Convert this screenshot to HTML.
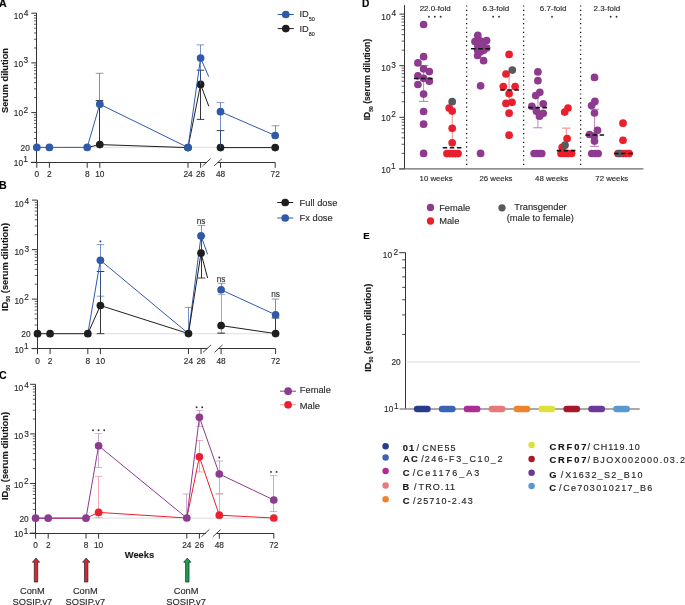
<!DOCTYPE html>
<html><head><meta charset="utf-8"><style>
html,body{margin:0;padding:0;background:#fff;overflow:hidden;}
svg text{stroke-width:0.15px;}
svg{display:block;font-family:"Liberation Sans",sans-serif;will-change:transform;filter:blur(0.3px);}
</style></head><body>
<svg width="685" height="605" viewBox="0 0 685 605">
<rect width="685" height="605" fill="#fff"/>
<text x="-0.90" y="6.80" font-size="10.6" text-anchor="start" font-weight="bold" fill="#000" stroke="#000" >A</text>
<line x1="36.50" y1="13.20" x2="36.50" y2="162.80" stroke="#333" stroke-width="1.0" />
<line x1="31.30" y1="162.30" x2="36.80" y2="162.30" stroke="#333" stroke-width="1.0" />
<line x1="31.30" y1="112.60" x2="36.80" y2="112.60" stroke="#333" stroke-width="1.0" />
<line x1="31.30" y1="62.90" x2="36.80" y2="62.90" stroke="#333" stroke-width="1.0" />
<line x1="31.30" y1="13.20" x2="36.80" y2="13.20" stroke="#333" stroke-width="1.0" />
<line x1="34.00" y1="147.34" x2="36.80" y2="147.34" stroke="#333" stroke-width="0.8" />
<line x1="34.00" y1="138.59" x2="36.80" y2="138.59" stroke="#333" stroke-width="0.8" />
<line x1="34.00" y1="132.38" x2="36.80" y2="132.38" stroke="#333" stroke-width="0.8" />
<line x1="34.00" y1="127.56" x2="36.80" y2="127.56" stroke="#333" stroke-width="0.8" />
<line x1="34.00" y1="123.63" x2="36.80" y2="123.63" stroke="#333" stroke-width="0.8" />
<line x1="34.00" y1="120.30" x2="36.80" y2="120.30" stroke="#333" stroke-width="0.8" />
<line x1="34.00" y1="117.42" x2="36.80" y2="117.42" stroke="#333" stroke-width="0.8" />
<line x1="34.00" y1="114.87" x2="36.80" y2="114.87" stroke="#333" stroke-width="0.8" />
<line x1="34.00" y1="97.64" x2="36.80" y2="97.64" stroke="#333" stroke-width="0.8" />
<line x1="34.00" y1="88.89" x2="36.80" y2="88.89" stroke="#333" stroke-width="0.8" />
<line x1="34.00" y1="82.68" x2="36.80" y2="82.68" stroke="#333" stroke-width="0.8" />
<line x1="34.00" y1="77.86" x2="36.80" y2="77.86" stroke="#333" stroke-width="0.8" />
<line x1="34.00" y1="73.93" x2="36.80" y2="73.93" stroke="#333" stroke-width="0.8" />
<line x1="34.00" y1="70.60" x2="36.80" y2="70.60" stroke="#333" stroke-width="0.8" />
<line x1="34.00" y1="67.72" x2="36.80" y2="67.72" stroke="#333" stroke-width="0.8" />
<line x1="34.00" y1="65.17" x2="36.80" y2="65.17" stroke="#333" stroke-width="0.8" />
<line x1="34.00" y1="47.94" x2="36.80" y2="47.94" stroke="#333" stroke-width="0.8" />
<line x1="34.00" y1="39.19" x2="36.80" y2="39.19" stroke="#333" stroke-width="0.8" />
<line x1="34.00" y1="32.98" x2="36.80" y2="32.98" stroke="#333" stroke-width="0.8" />
<line x1="34.00" y1="28.16" x2="36.80" y2="28.16" stroke="#333" stroke-width="0.8" />
<line x1="34.00" y1="24.23" x2="36.80" y2="24.23" stroke="#333" stroke-width="0.8" />
<line x1="34.00" y1="20.90" x2="36.80" y2="20.90" stroke="#333" stroke-width="0.8" />
<line x1="34.00" y1="18.02" x2="36.80" y2="18.02" stroke="#333" stroke-width="0.8" />
<line x1="34.00" y1="15.47" x2="36.80" y2="15.47" stroke="#333" stroke-width="0.8" />
<text x="13.77" y="166.06" font-size="8.3" text-anchor="start" font-weight="normal" fill="#2c2c2c" stroke="#2c2c2c" >10</text>
<text x="23.27" y="162.16" font-size="8.3" text-anchor="start" font-weight="normal" fill="#2c2c2c" stroke="#2c2c2c" >1</text>
<text x="13.77" y="116.36" font-size="8.3" text-anchor="start" font-weight="normal" fill="#2c2c2c" stroke="#2c2c2c" >10</text>
<text x="23.48" y="112.56" font-size="8.3" text-anchor="start" font-weight="normal" fill="#2c2c2c" stroke="#2c2c2c" >2</text>
<text x="13.77" y="66.96" font-size="8.3" text-anchor="start" font-weight="normal" fill="#2c2c2c" stroke="#2c2c2c" >10</text>
<text x="23.58" y="63.36" font-size="8.3" text-anchor="start" font-weight="normal" fill="#2c2c2c" stroke="#2c2c2c" >3</text>
<text x="13.77" y="19.46" font-size="8.3" text-anchor="start" font-weight="normal" fill="#2c2c2c" stroke="#2c2c2c" >10</text>
<text x="23.71" y="15.61" font-size="8.3" text-anchor="start" font-weight="normal" fill="#2c2c2c" stroke="#2c2c2c" >4</text>
<text x="29.82" y="150.79" font-size="8.3" text-anchor="end" font-weight="normal" fill="#2c2c2c" stroke="#2c2c2c" >20</text>
<line x1="36.80" y1="147.34" x2="275.20" y2="147.34" stroke="#d4d4d4" stroke-width="0.8" />
<line x1="30.80" y1="162.50" x2="207.10" y2="162.50" stroke="#333" stroke-width="1.0" />
<line x1="217.50" y1="162.50" x2="275.20" y2="162.50" stroke="#333" stroke-width="1.0" />
<line x1="202.60" y1="166.00" x2="210.60" y2="158.60" stroke="#333" stroke-width="0.9" />
<line x1="214.00" y1="166.00" x2="222.00" y2="158.60" stroke="#333" stroke-width="0.9" />
<line x1="36.80" y1="162.30" x2="36.80" y2="167.80" stroke="#333" stroke-width="1.0" />
<text x="36.80" y="177.36" font-size="8.3" text-anchor="middle" font-weight="normal" fill="#2c2c2c" stroke="#2c2c2c" >0</text>
<line x1="49.40" y1="162.30" x2="49.40" y2="167.80" stroke="#333" stroke-width="1.0" />
<text x="49.40" y="177.36" font-size="8.3" text-anchor="middle" font-weight="normal" fill="#2c2c2c" stroke="#2c2c2c" >2</text>
<line x1="87.20" y1="162.30" x2="87.20" y2="167.80" stroke="#333" stroke-width="1.0" />
<text x="87.20" y="177.36" font-size="8.3" text-anchor="middle" font-weight="normal" fill="#2c2c2c" stroke="#2c2c2c" >8</text>
<line x1="99.80" y1="162.30" x2="99.80" y2="167.80" stroke="#333" stroke-width="1.0" />
<text x="99.80" y="177.36" font-size="8.3" text-anchor="middle" font-weight="normal" fill="#2c2c2c" stroke="#2c2c2c" >10</text>
<line x1="188.00" y1="162.30" x2="188.00" y2="167.80" stroke="#333" stroke-width="1.0" />
<text x="188.00" y="177.36" font-size="8.3" text-anchor="middle" font-weight="normal" fill="#2c2c2c" stroke="#2c2c2c" >24</text>
<line x1="200.60" y1="162.30" x2="200.60" y2="167.80" stroke="#333" stroke-width="1.0" />
<text x="200.60" y="177.36" font-size="8.3" text-anchor="middle" font-weight="normal" fill="#2c2c2c" stroke="#2c2c2c" >26</text>
<line x1="220.50" y1="162.30" x2="220.50" y2="167.80" stroke="#333" stroke-width="1.0" />
<text x="220.50" y="177.36" font-size="8.3" text-anchor="middle" font-weight="normal" fill="#2c2c2c" stroke="#2c2c2c" >48</text>
<line x1="275.20" y1="162.30" x2="275.20" y2="167.80" stroke="#333" stroke-width="1.0" />
<text x="275.20" y="177.36" font-size="8.3" text-anchor="middle" font-weight="normal" fill="#2c2c2c" stroke="#2c2c2c" >72</text>
<text x="0" y="0" transform="translate(8.10,80.50) rotate(-90)" font-size="9.3" text-anchor="middle" font-weight="bold" fill="#1a1a1a" stroke="#1a1a1a">Serum dilution</text>
<line x1="99.50" y1="100.50" x2="99.50" y2="147.60" stroke="#1e1e1e" stroke-width="0.9" />
<line x1="95.70" y1="100.50" x2="103.30" y2="100.50" stroke="#1e1e1e" stroke-width="1.0" stroke-opacity="0.85"/>
<line x1="200.50" y1="70.20" x2="200.50" y2="119.40" stroke="#1e1e1e" stroke-width="0.9" />
<line x1="196.70" y1="70.20" x2="204.30" y2="70.20" stroke="#1e1e1e" stroke-width="1.0" stroke-opacity="0.85"/>
<line x1="196.70" y1="119.40" x2="204.30" y2="119.40" stroke="#1e1e1e" stroke-width="1.0" stroke-opacity="0.85"/>
<line x1="220.50" y1="130.60" x2="220.50" y2="147.60" stroke="#1e1e1e" stroke-width="0.9" />
<line x1="216.70" y1="130.60" x2="224.30" y2="130.60" stroke="#1e1e1e" stroke-width="1.0" stroke-opacity="0.85"/>
<polyline points="87.20,147.50 99.80,144.60 188.00,147.60 200.60,84.40 208.80,106.30" fill="none" stroke="#1e1e1e" stroke-width="1.0" stroke-linejoin="round" />
<polyline points="220.50,147.60 275.20,147.60" fill="none" stroke="#1e1e1e" stroke-width="1.0" stroke-linejoin="round" />
<circle cx="99.80" cy="144.60" r="3.85" fill="#1e1e1e" />
<circle cx="188.00" cy="147.60" r="3.85" fill="#1e1e1e" />
<circle cx="200.60" cy="84.40" r="3.85" fill="#1e1e1e" />
<circle cx="220.50" cy="147.60" r="3.85" fill="#1e1e1e" />
<circle cx="275.20" cy="147.60" r="3.85" fill="#1e1e1e" />
<line x1="99.50" y1="73.30" x2="99.50" y2="104.20" stroke="#3159a9" stroke-width="0.9" stroke-opacity="0.75"/>
<line x1="95.70" y1="73.30" x2="103.30" y2="73.30" stroke="#3159a9" stroke-width="1.0" stroke-opacity="0.6"/>
<line x1="200.50" y1="44.90" x2="200.50" y2="84.00" stroke="#3159a9" stroke-width="0.9" stroke-opacity="0.75"/>
<line x1="196.70" y1="44.90" x2="204.30" y2="44.90" stroke="#3159a9" stroke-width="1.0" stroke-opacity="0.6"/>
<line x1="220.50" y1="102.60" x2="220.50" y2="147.60" stroke="#3159a9" stroke-width="0.9" stroke-opacity="0.75"/>
<line x1="216.70" y1="102.60" x2="224.30" y2="102.60" stroke="#3159a9" stroke-width="1.0" stroke-opacity="0.6"/>
<line x1="275.50" y1="125.75" x2="275.50" y2="135.50" stroke="#3159a9" stroke-width="0.9" stroke-opacity="0.75"/>
<line x1="271.70" y1="125.75" x2="279.30" y2="125.75" stroke="#3159a9" stroke-width="1.0" stroke-opacity="0.6"/>
<polyline points="36.80,147.40 49.40,147.40 87.20,147.40 99.80,104.20 188.00,147.50 200.60,58.10 208.80,76.70" fill="none" stroke="#3159a9" stroke-width="1.0" stroke-linejoin="round" />
<polyline points="220.50,111.70 275.20,135.50" fill="none" stroke="#3159a9" stroke-width="1.0" stroke-linejoin="round" />
<circle cx="36.80" cy="147.40" r="3.85" fill="#3159a9" />
<circle cx="49.40" cy="147.40" r="3.85" fill="#3159a9" />
<circle cx="87.20" cy="147.40" r="3.85" fill="#3159a9" />
<circle cx="99.80" cy="104.20" r="3.85" fill="#3159a9" />
<circle cx="188.00" cy="147.50" r="3.85" fill="#3159a9" />
<circle cx="200.60" cy="58.10" r="3.85" fill="#3159a9" />
<circle cx="220.50" cy="111.70" r="3.85" fill="#3159a9" />
<circle cx="275.20" cy="135.50" r="3.85" fill="#3159a9" />
<line x1="277.70" y1="14.50" x2="293.80" y2="14.50" stroke="#3159a9" stroke-width="1.0" />
<circle cx="285.80" cy="14.50" r="3.85" fill="#3159a9" />
<line x1="277.70" y1="28.60" x2="293.80" y2="28.60" stroke="#1e1e1e" stroke-width="1.0" />
<circle cx="285.80" cy="28.60" r="3.85" fill="#1e1e1e" />
<text x="299.40" y="16.80" font-size="9.3" text-anchor="start" font-weight="normal" fill="#2c2c2c" stroke="#2c2c2c" >ID</text>
<text x="308.80" y="20.60" font-size="5.4" text-anchor="start" font-weight="normal" fill="#2c2c2c" stroke="#2c2c2c" >50</text>
<text x="299.40" y="32.10" font-size="9.3" text-anchor="start" font-weight="normal" fill="#2c2c2c" stroke="#2c2c2c" >ID</text>
<text x="308.80" y="35.90" font-size="5.4" text-anchor="start" font-weight="normal" fill="#2c2c2c" stroke="#2c2c2c" >80</text>
<text x="-0.90" y="188.70" font-size="10.6" text-anchor="start" font-weight="bold" fill="#000" stroke="#000" >B</text>
<line x1="37.50" y1="200.10" x2="37.50" y2="349.10" stroke="#333" stroke-width="1.0" />
<line x1="32.00" y1="348.60" x2="37.50" y2="348.60" stroke="#333" stroke-width="1.0" />
<line x1="32.00" y1="299.10" x2="37.50" y2="299.10" stroke="#333" stroke-width="1.0" />
<line x1="32.00" y1="249.60" x2="37.50" y2="249.60" stroke="#333" stroke-width="1.0" />
<line x1="32.00" y1="200.10" x2="37.50" y2="200.10" stroke="#333" stroke-width="1.0" />
<line x1="34.70" y1="333.70" x2="37.50" y2="333.70" stroke="#333" stroke-width="0.8" />
<line x1="34.70" y1="324.98" x2="37.50" y2="324.98" stroke="#333" stroke-width="0.8" />
<line x1="34.70" y1="318.80" x2="37.50" y2="318.80" stroke="#333" stroke-width="0.8" />
<line x1="34.70" y1="314.00" x2="37.50" y2="314.00" stroke="#333" stroke-width="0.8" />
<line x1="34.70" y1="310.08" x2="37.50" y2="310.08" stroke="#333" stroke-width="0.8" />
<line x1="34.70" y1="306.77" x2="37.50" y2="306.77" stroke="#333" stroke-width="0.8" />
<line x1="34.70" y1="303.90" x2="37.50" y2="303.90" stroke="#333" stroke-width="0.8" />
<line x1="34.70" y1="301.36" x2="37.50" y2="301.36" stroke="#333" stroke-width="0.8" />
<line x1="34.70" y1="284.20" x2="37.50" y2="284.20" stroke="#333" stroke-width="0.8" />
<line x1="34.70" y1="275.48" x2="37.50" y2="275.48" stroke="#333" stroke-width="0.8" />
<line x1="34.70" y1="269.30" x2="37.50" y2="269.30" stroke="#333" stroke-width="0.8" />
<line x1="34.70" y1="264.50" x2="37.50" y2="264.50" stroke="#333" stroke-width="0.8" />
<line x1="34.70" y1="260.58" x2="37.50" y2="260.58" stroke="#333" stroke-width="0.8" />
<line x1="34.70" y1="257.27" x2="37.50" y2="257.27" stroke="#333" stroke-width="0.8" />
<line x1="34.70" y1="254.40" x2="37.50" y2="254.40" stroke="#333" stroke-width="0.8" />
<line x1="34.70" y1="251.86" x2="37.50" y2="251.86" stroke="#333" stroke-width="0.8" />
<line x1="34.70" y1="234.70" x2="37.50" y2="234.70" stroke="#333" stroke-width="0.8" />
<line x1="34.70" y1="225.98" x2="37.50" y2="225.98" stroke="#333" stroke-width="0.8" />
<line x1="34.70" y1="219.80" x2="37.50" y2="219.80" stroke="#333" stroke-width="0.8" />
<line x1="34.70" y1="215.00" x2="37.50" y2="215.00" stroke="#333" stroke-width="0.8" />
<line x1="34.70" y1="211.08" x2="37.50" y2="211.08" stroke="#333" stroke-width="0.8" />
<line x1="34.70" y1="207.77" x2="37.50" y2="207.77" stroke="#333" stroke-width="0.8" />
<line x1="34.70" y1="204.90" x2="37.50" y2="204.90" stroke="#333" stroke-width="0.8" />
<line x1="34.70" y1="202.36" x2="37.50" y2="202.36" stroke="#333" stroke-width="0.8" />
<text x="14.47" y="352.56" font-size="8.3" text-anchor="start" font-weight="normal" fill="#2c2c2c" stroke="#2c2c2c" >10</text>
<text x="24.07" y="349.36" font-size="8.3" text-anchor="start" font-weight="normal" fill="#2c2c2c" stroke="#2c2c2c" >1</text>
<text x="14.47" y="303.66" font-size="8.3" text-anchor="start" font-weight="normal" fill="#2c2c2c" stroke="#2c2c2c" >10</text>
<text x="24.28" y="300.16" font-size="8.3" text-anchor="start" font-weight="normal" fill="#2c2c2c" stroke="#2c2c2c" >2</text>
<text x="14.47" y="254.86" font-size="8.3" text-anchor="start" font-weight="normal" fill="#2c2c2c" stroke="#2c2c2c" >10</text>
<text x="24.38" y="252.26" font-size="8.3" text-anchor="start" font-weight="normal" fill="#2c2c2c" stroke="#2c2c2c" >3</text>
<text x="14.47" y="206.76" font-size="8.3" text-anchor="start" font-weight="normal" fill="#2c2c2c" stroke="#2c2c2c" >10</text>
<text x="24.51" y="203.86" font-size="8.3" text-anchor="start" font-weight="normal" fill="#2c2c2c" stroke="#2c2c2c" >4</text>
<text x="30.52" y="337.15" font-size="8.3" text-anchor="end" font-weight="normal" fill="#2c2c2c" stroke="#2c2c2c" >20</text>
<line x1="37.50" y1="333.70" x2="275.60" y2="333.70" stroke="#d4d4d4" stroke-width="0.8" />
<line x1="31.50" y1="348.50" x2="207.54" y2="348.50" stroke="#333" stroke-width="1.0" />
<line x1="218.10" y1="348.50" x2="275.60" y2="348.50" stroke="#333" stroke-width="1.0" />
<line x1="203.04" y1="352.30" x2="211.04" y2="344.90" stroke="#333" stroke-width="0.9" />
<line x1="214.60" y1="352.30" x2="222.60" y2="344.90" stroke="#333" stroke-width="0.9" />
<line x1="37.50" y1="348.60" x2="37.50" y2="354.10" stroke="#333" stroke-width="1.0" />
<text x="37.50" y="363.66" font-size="8.3" text-anchor="middle" font-weight="normal" fill="#2c2c2c" stroke="#2c2c2c" >0</text>
<line x1="50.08" y1="348.60" x2="50.08" y2="354.10" stroke="#333" stroke-width="1.0" />
<text x="50.08" y="363.66" font-size="8.3" text-anchor="middle" font-weight="normal" fill="#2c2c2c" stroke="#2c2c2c" >2</text>
<line x1="87.82" y1="348.60" x2="87.82" y2="354.10" stroke="#333" stroke-width="1.0" />
<text x="87.82" y="363.66" font-size="8.3" text-anchor="middle" font-weight="normal" fill="#2c2c2c" stroke="#2c2c2c" >8</text>
<line x1="100.40" y1="348.60" x2="100.40" y2="354.10" stroke="#333" stroke-width="1.0" />
<text x="100.40" y="363.66" font-size="8.3" text-anchor="middle" font-weight="normal" fill="#2c2c2c" stroke="#2c2c2c" >10</text>
<line x1="188.46" y1="348.60" x2="188.46" y2="354.10" stroke="#333" stroke-width="1.0" />
<text x="188.46" y="363.66" font-size="8.3" text-anchor="middle" font-weight="normal" fill="#2c2c2c" stroke="#2c2c2c" >24</text>
<line x1="201.04" y1="348.60" x2="201.04" y2="354.10" stroke="#333" stroke-width="1.0" />
<text x="201.04" y="363.66" font-size="8.3" text-anchor="middle" font-weight="normal" fill="#2c2c2c" stroke="#2c2c2c" >26</text>
<line x1="221.10" y1="348.60" x2="221.10" y2="354.10" stroke="#333" stroke-width="1.0" />
<text x="221.10" y="363.66" font-size="8.3" text-anchor="middle" font-weight="normal" fill="#2c2c2c" stroke="#2c2c2c" >48</text>
<line x1="275.60" y1="348.60" x2="275.60" y2="354.10" stroke="#333" stroke-width="1.0" />
<text x="275.60" y="363.66" font-size="8.3" text-anchor="middle" font-weight="normal" fill="#2c2c2c" stroke="#2c2c2c" >72</text>
<text x="0" y="0" transform="translate(7.80,267.00) rotate(-90)" font-size="9.3" text-anchor="middle" font-weight="bold" fill="#1a1a1a" stroke="#1a1a1a">ID<tspan font-size="5.39" dy="2.2">50</tspan><tspan dy="-2.2"> (serum dilution)</tspan></text>
<line x1="100.50" y1="271.50" x2="100.50" y2="333.70" stroke="#1e1e1e" stroke-width="0.9" />
<line x1="96.70" y1="271.50" x2="104.30" y2="271.50" stroke="#1e1e1e" stroke-width="1.0" stroke-opacity="0.85"/>
<line x1="96.70" y1="333.70" x2="104.30" y2="333.70" stroke="#1e1e1e" stroke-width="1.0" stroke-opacity="0.85"/>
<line x1="188.50" y1="307.40" x2="188.50" y2="333.70" stroke="#3159a9" stroke-width="0.9" stroke-opacity="0.75"/>
<line x1="184.70" y1="307.40" x2="192.30" y2="307.40" stroke="#3159a9" stroke-width="1.0" stroke-opacity="0.6"/>
<line x1="201.50" y1="235.90" x2="201.50" y2="278.00" stroke="#1e1e1e" stroke-width="0.9" />
<line x1="197.70" y1="235.90" x2="205.30" y2="235.90" stroke="#1e1e1e" stroke-width="1.0" stroke-opacity="0.85"/>
<line x1="197.70" y1="278.00" x2="205.30" y2="278.00" stroke="#1e1e1e" stroke-width="1.0" stroke-opacity="0.85"/>
<line x1="221.50" y1="294.60" x2="221.50" y2="333.10" stroke="#6b7fa8" stroke-width="0.9" stroke-opacity="0.75"/>
<line x1="217.70" y1="294.60" x2="225.30" y2="294.60" stroke="#6b7fa8" stroke-width="1.0" stroke-opacity="0.6"/>
<line x1="217.30" y1="333.10" x2="224.90" y2="333.10" stroke="#1e1e1e" stroke-width="1.0" />
<line x1="275.50" y1="318.00" x2="275.50" y2="333.60" stroke="#1e1e1e" stroke-width="0.9" />
<line x1="271.70" y1="318.00" x2="279.30" y2="318.00" stroke="#1e1e1e" stroke-width="1.0" stroke-opacity="0.85"/>
<line x1="100.50" y1="244.60" x2="100.50" y2="296.20" stroke="#3159a9" stroke-width="0.9" stroke-opacity="0.75"/>
<line x1="96.70" y1="244.60" x2="104.30" y2="244.60" stroke="#3159a9" stroke-width="1.0" stroke-opacity="0.6"/>
<line x1="96.70" y1="296.20" x2="104.30" y2="296.20" stroke="#3159a9" stroke-width="1.0" stroke-opacity="0.6"/>
<line x1="201.50" y1="225.40" x2="201.50" y2="253.00" stroke="#3159a9" stroke-width="0.9" stroke-opacity="0.75"/>
<line x1="197.70" y1="225.40" x2="205.30" y2="225.40" stroke="#3159a9" stroke-width="1.0" stroke-opacity="0.6"/>
<line x1="221.50" y1="283.30" x2="221.50" y2="289.80" stroke="#3159a9" stroke-width="0.9" stroke-opacity="0.75"/>
<line x1="217.70" y1="283.30" x2="225.30" y2="283.30" stroke="#3159a9" stroke-width="1.0" stroke-opacity="0.6"/>
<line x1="275.50" y1="299.10" x2="275.50" y2="314.80" stroke="#3159a9" stroke-width="0.9" stroke-opacity="0.75"/>
<line x1="271.70" y1="299.10" x2="279.30" y2="299.10" stroke="#3159a9" stroke-width="1.0" stroke-opacity="0.6"/>
<polyline points="87.82,333.70 100.40,260.30 188.46,333.60 201.04,235.90 207.60,254.30" fill="none" stroke="#3159a9" stroke-width="1.0" stroke-linejoin="round" />
<polyline points="221.10,289.80 275.60,314.80" fill="none" stroke="#3159a9" stroke-width="1.0" stroke-linejoin="round" />
<circle cx="100.40" cy="260.30" r="3.85" fill="#3159a9" />
<circle cx="201.04" cy="235.90" r="3.85" fill="#3159a9" />
<circle cx="221.10" cy="289.80" r="3.85" fill="#3159a9" />
<circle cx="275.60" cy="314.80" r="3.85" fill="#3159a9" />
<polyline points="37.50,333.70 50.08,333.70 87.82,333.70 100.40,305.50 188.46,333.60 201.04,253.20 207.60,278.00" fill="none" stroke="#1e1e1e" stroke-width="1.0" stroke-linejoin="round" />
<polyline points="221.10,325.60 275.60,333.60" fill="none" stroke="#1e1e1e" stroke-width="1.0" stroke-linejoin="round" />
<circle cx="37.50" cy="333.70" r="3.85" fill="#1e1e1e" />
<circle cx="50.08" cy="333.70" r="3.85" fill="#1e1e1e" />
<circle cx="87.82" cy="333.70" r="3.85" fill="#1e1e1e" />
<circle cx="100.40" cy="305.50" r="3.85" fill="#1e1e1e" />
<circle cx="188.46" cy="333.60" r="3.85" fill="#1e1e1e" />
<circle cx="201.04" cy="253.20" r="3.85" fill="#1e1e1e" />
<circle cx="221.10" cy="325.60" r="3.85" fill="#1e1e1e" />
<circle cx="275.60" cy="333.60" r="3.85" fill="#1e1e1e" />
<circle cx="100.40" cy="241.40" r="0.95" fill="#333" />
<text x="201.04" y="223.60" font-size="8.2" text-anchor="middle" font-weight="normal" fill="#333" stroke="#333" >ns</text>
<text x="221.10" y="282.10" font-size="8.2" text-anchor="middle" font-weight="normal" fill="#333" stroke="#333" >ns</text>
<text x="275.60" y="297.20" font-size="8.2" text-anchor="middle" font-weight="normal" fill="#333" stroke="#333" >ns</text>
<line x1="277.20" y1="202.50" x2="293.30" y2="202.50" stroke="#1e1e1e" stroke-width="1.0" />
<circle cx="285.20" cy="202.50" r="3.85" fill="#1e1e1e" />
<line x1="277.20" y1="218.00" x2="293.30" y2="218.00" stroke="#3159a9" stroke-width="1.0" />
<circle cx="285.20" cy="218.00" r="3.85" fill="#3159a9" />
<text x="299.60" y="205.80" font-size="9.3" text-anchor="start" font-weight="normal" fill="#2c2c2c" stroke="#2c2c2c" >Full dose</text>
<text x="299.60" y="221.30" font-size="9.3" text-anchor="start" font-weight="normal" fill="#2c2c2c" stroke="#2c2c2c" >Fx dose</text>
<text x="-0.90" y="378.90" font-size="10.6" text-anchor="start" font-weight="bold" fill="#000" stroke="#000" >C</text>
<line x1="35.50" y1="384.30" x2="35.50" y2="533.60" stroke="#333" stroke-width="1.0" />
<line x1="30.10" y1="533.10" x2="35.60" y2="533.10" stroke="#333" stroke-width="1.0" />
<line x1="30.10" y1="483.50" x2="35.60" y2="483.50" stroke="#333" stroke-width="1.0" />
<line x1="30.10" y1="433.90" x2="35.60" y2="433.90" stroke="#333" stroke-width="1.0" />
<line x1="30.10" y1="384.30" x2="35.60" y2="384.30" stroke="#333" stroke-width="1.0" />
<line x1="32.80" y1="518.17" x2="35.60" y2="518.17" stroke="#333" stroke-width="0.8" />
<line x1="32.80" y1="509.43" x2="35.60" y2="509.43" stroke="#333" stroke-width="0.8" />
<line x1="32.80" y1="503.24" x2="35.60" y2="503.24" stroke="#333" stroke-width="0.8" />
<line x1="32.80" y1="498.43" x2="35.60" y2="498.43" stroke="#333" stroke-width="0.8" />
<line x1="32.80" y1="494.50" x2="35.60" y2="494.50" stroke="#333" stroke-width="0.8" />
<line x1="32.80" y1="491.18" x2="35.60" y2="491.18" stroke="#333" stroke-width="0.8" />
<line x1="32.80" y1="488.31" x2="35.60" y2="488.31" stroke="#333" stroke-width="0.8" />
<line x1="32.80" y1="485.77" x2="35.60" y2="485.77" stroke="#333" stroke-width="0.8" />
<line x1="32.80" y1="468.57" x2="35.60" y2="468.57" stroke="#333" stroke-width="0.8" />
<line x1="32.80" y1="459.83" x2="35.60" y2="459.83" stroke="#333" stroke-width="0.8" />
<line x1="32.80" y1="453.64" x2="35.60" y2="453.64" stroke="#333" stroke-width="0.8" />
<line x1="32.80" y1="448.83" x2="35.60" y2="448.83" stroke="#333" stroke-width="0.8" />
<line x1="32.80" y1="444.90" x2="35.60" y2="444.90" stroke="#333" stroke-width="0.8" />
<line x1="32.80" y1="441.58" x2="35.60" y2="441.58" stroke="#333" stroke-width="0.8" />
<line x1="32.80" y1="438.71" x2="35.60" y2="438.71" stroke="#333" stroke-width="0.8" />
<line x1="32.80" y1="436.17" x2="35.60" y2="436.17" stroke="#333" stroke-width="0.8" />
<line x1="32.80" y1="418.97" x2="35.60" y2="418.97" stroke="#333" stroke-width="0.8" />
<line x1="32.80" y1="410.23" x2="35.60" y2="410.23" stroke="#333" stroke-width="0.8" />
<line x1="32.80" y1="404.04" x2="35.60" y2="404.04" stroke="#333" stroke-width="0.8" />
<line x1="32.80" y1="399.23" x2="35.60" y2="399.23" stroke="#333" stroke-width="0.8" />
<line x1="32.80" y1="395.30" x2="35.60" y2="395.30" stroke="#333" stroke-width="0.8" />
<line x1="32.80" y1="391.98" x2="35.60" y2="391.98" stroke="#333" stroke-width="0.8" />
<line x1="32.80" y1="389.11" x2="35.60" y2="389.11" stroke="#333" stroke-width="0.8" />
<line x1="32.80" y1="386.57" x2="35.60" y2="386.57" stroke="#333" stroke-width="0.8" />
<text x="13.97" y="537.06" font-size="8.3" text-anchor="start" font-weight="normal" fill="#2c2c2c" stroke="#2c2c2c" >10</text>
<text x="23.87" y="533.86" font-size="8.3" text-anchor="start" font-weight="normal" fill="#2c2c2c" stroke="#2c2c2c" >1</text>
<text x="13.97" y="487.86" font-size="8.3" text-anchor="start" font-weight="normal" fill="#2c2c2c" stroke="#2c2c2c" >10</text>
<text x="24.08" y="484.36" font-size="8.3" text-anchor="start" font-weight="normal" fill="#2c2c2c" stroke="#2c2c2c" >2</text>
<text x="13.97" y="439.36" font-size="8.3" text-anchor="start" font-weight="normal" fill="#2c2c2c" stroke="#2c2c2c" >10</text>
<text x="24.18" y="436.66" font-size="8.3" text-anchor="start" font-weight="normal" fill="#2c2c2c" stroke="#2c2c2c" >3</text>
<text x="13.97" y="390.96" font-size="8.3" text-anchor="start" font-weight="normal" fill="#2c2c2c" stroke="#2c2c2c" >10</text>
<text x="24.31" y="388.36" font-size="8.3" text-anchor="start" font-weight="normal" fill="#2c2c2c" stroke="#2c2c2c" >4</text>
<text x="28.62" y="521.62" font-size="8.3" text-anchor="end" font-weight="normal" fill="#2c2c2c" stroke="#2c2c2c" >20</text>
<line x1="35.60" y1="518.17" x2="273.80" y2="518.17" stroke="#d4d4d4" stroke-width="0.8" />
<line x1="29.60" y1="533.50" x2="205.90" y2="533.50" stroke="#333" stroke-width="1.0" />
<line x1="216.30" y1="533.50" x2="273.80" y2="533.50" stroke="#333" stroke-width="1.0" />
<line x1="201.40" y1="536.80" x2="209.40" y2="529.40" stroke="#333" stroke-width="0.9" />
<line x1="212.80" y1="536.80" x2="220.80" y2="529.40" stroke="#333" stroke-width="0.9" />
<line x1="35.60" y1="533.10" x2="35.60" y2="538.60" stroke="#333" stroke-width="1.0" />
<text x="35.60" y="548.16" font-size="8.3" text-anchor="middle" font-weight="normal" fill="#2c2c2c" stroke="#2c2c2c" >0</text>
<line x1="48.20" y1="533.10" x2="48.20" y2="538.60" stroke="#333" stroke-width="1.0" />
<text x="48.20" y="548.16" font-size="8.3" text-anchor="middle" font-weight="normal" fill="#2c2c2c" stroke="#2c2c2c" >2</text>
<line x1="86.00" y1="533.10" x2="86.00" y2="538.60" stroke="#333" stroke-width="1.0" />
<text x="86.00" y="548.16" font-size="8.3" text-anchor="middle" font-weight="normal" fill="#2c2c2c" stroke="#2c2c2c" >8</text>
<line x1="98.60" y1="533.10" x2="98.60" y2="538.60" stroke="#333" stroke-width="1.0" />
<text x="98.60" y="548.16" font-size="8.3" text-anchor="middle" font-weight="normal" fill="#2c2c2c" stroke="#2c2c2c" >10</text>
<line x1="186.80" y1="533.10" x2="186.80" y2="538.60" stroke="#333" stroke-width="1.0" />
<text x="186.80" y="548.16" font-size="8.3" text-anchor="middle" font-weight="normal" fill="#2c2c2c" stroke="#2c2c2c" >24</text>
<line x1="199.40" y1="533.10" x2="199.40" y2="538.60" stroke="#333" stroke-width="1.0" />
<text x="199.40" y="548.16" font-size="8.3" text-anchor="middle" font-weight="normal" fill="#2c2c2c" stroke="#2c2c2c" >26</text>
<line x1="219.30" y1="533.10" x2="219.30" y2="538.60" stroke="#333" stroke-width="1.0" />
<text x="219.30" y="548.16" font-size="8.3" text-anchor="middle" font-weight="normal" fill="#2c2c2c" stroke="#2c2c2c" >48</text>
<line x1="273.80" y1="533.10" x2="273.80" y2="538.60" stroke="#333" stroke-width="1.0" />
<text x="273.80" y="548.16" font-size="8.3" text-anchor="middle" font-weight="normal" fill="#2c2c2c" stroke="#2c2c2c" >72</text>
<text x="0" y="0" transform="translate(7.80,456.00) rotate(-90)" font-size="9.3" text-anchor="middle" font-weight="bold" fill="#1a1a1a" stroke="#1a1a1a">ID<tspan font-size="5.39" dy="2.2">50</tspan><tspan dy="-2.2"> (serum dilution)</tspan></text>
<line x1="98.50" y1="433.60" x2="98.50" y2="467.50" stroke="#b77fb8" stroke-width="0.9" stroke-opacity="0.75"/>
<line x1="94.70" y1="433.60" x2="102.30" y2="433.60" stroke="#b77fb8" stroke-width="1.0" stroke-opacity="0.6"/>
<line x1="94.70" y1="467.50" x2="102.30" y2="467.50" stroke="#b77fb8" stroke-width="1.0" stroke-opacity="0.6"/>
<line x1="98.50" y1="476.40" x2="98.50" y2="517.60" stroke="#f27a85" stroke-width="0.9" stroke-opacity="0.75"/>
<line x1="94.70" y1="476.40" x2="102.30" y2="476.40" stroke="#f27a85" stroke-width="1.0" stroke-opacity="0.6"/>
<line x1="94.70" y1="517.60" x2="102.30" y2="517.60" stroke="#f27a85" stroke-width="1.0" stroke-opacity="0.6"/>
<line x1="186.50" y1="494.00" x2="186.50" y2="518.00" stroke="#b77fb8" stroke-width="0.9" stroke-opacity="0.75"/>
<line x1="182.70" y1="494.00" x2="190.30" y2="494.00" stroke="#b77fb8" stroke-width="1.0" stroke-opacity="0.6"/>
<line x1="199.50" y1="410.40" x2="199.50" y2="426.40" stroke="#b77fb8" stroke-width="0.9" stroke-opacity="0.75"/>
<line x1="195.70" y1="410.40" x2="203.30" y2="410.40" stroke="#b77fb8" stroke-width="1.0" stroke-opacity="0.6"/>
<line x1="195.70" y1="426.40" x2="203.30" y2="426.40" stroke="#b77fb8" stroke-width="1.0" stroke-opacity="0.6"/>
<line x1="199.50" y1="440.50" x2="199.50" y2="471.90" stroke="#f27a85" stroke-width="0.9" stroke-opacity="0.75"/>
<line x1="195.70" y1="440.50" x2="203.30" y2="440.50" stroke="#f27a85" stroke-width="1.0" stroke-opacity="0.6"/>
<line x1="195.70" y1="471.90" x2="203.30" y2="471.90" stroke="#f27a85" stroke-width="1.0" stroke-opacity="0.6"/>
<line x1="219.50" y1="461.00" x2="219.50" y2="474.00" stroke="#b77fb8" stroke-width="0.9" stroke-opacity="0.75"/>
<line x1="215.70" y1="461.00" x2="223.30" y2="461.00" stroke="#b77fb8" stroke-width="1.0" stroke-opacity="0.6"/>
<line x1="219.50" y1="474.00" x2="219.50" y2="493.90" stroke="#b77fb8" stroke-width="0.9" stroke-opacity="0.75"/>
<line x1="215.70" y1="493.90" x2="223.30" y2="493.90" stroke="#b77fb8" stroke-width="1.0" stroke-opacity="0.6"/>
<line x1="219.50" y1="493.90" x2="219.50" y2="515.20" stroke="#f27a85" stroke-width="0.9" stroke-opacity="0.75"/>
<line x1="215.70" y1="493.90" x2="223.30" y2="493.90" stroke="#f27a85" stroke-width="1.0" stroke-opacity="0.6"/>
<line x1="273.50" y1="475.60" x2="273.50" y2="511.50" stroke="#b77fb8" stroke-width="0.9" stroke-opacity="0.75"/>
<line x1="269.70" y1="475.60" x2="277.30" y2="475.60" stroke="#b77fb8" stroke-width="1.0" stroke-opacity="0.6"/>
<line x1="269.70" y1="511.50" x2="277.30" y2="511.50" stroke="#b77fb8" stroke-width="1.0" stroke-opacity="0.6"/>
<polyline points="35.60,518.17 48.20,518.17 86.00,518.17 98.60,512.40 186.80,518.00 199.40,456.80 219.30,515.20 273.80,518.00" fill="none" stroke="#e8202f" stroke-width="1.0" stroke-linejoin="round" />
<circle cx="98.60" cy="512.40" r="3.85" fill="#e8202f" />
<circle cx="199.40" cy="456.80" r="3.85" fill="#e8202f" />
<circle cx="219.30" cy="515.20" r="3.85" fill="#e8202f" />
<polyline points="35.60,518.17 48.20,518.17 86.00,518.17 98.60,445.80 186.80,518.00 199.40,417.30 219.30,474.00 273.80,500.00" fill="none" stroke="#8c3b8d" stroke-width="1.0" stroke-linejoin="round" />
<circle cx="35.60" cy="518.17" r="3.85" fill="#8c3b8d" />
<circle cx="48.20" cy="518.17" r="3.85" fill="#8c3b8d" />
<circle cx="86.00" cy="518.17" r="3.85" fill="#8c3b8d" />
<circle cx="98.60" cy="445.80" r="3.85" fill="#8c3b8d" />
<circle cx="186.80" cy="518.00" r="3.85" fill="#8c3b8d" />
<circle cx="199.40" cy="417.30" r="3.85" fill="#8c3b8d" />
<circle cx="219.30" cy="474.00" r="3.85" fill="#8c3b8d" />
<circle cx="273.80" cy="500.00" r="3.85" fill="#8c3b8d" />
<circle cx="273.80" cy="518.00" r="3.85" fill="#e8202f" />
<circle cx="93.00" cy="430.20" r="0.95" fill="#333" />
<circle cx="98.60" cy="430.20" r="0.95" fill="#333" />
<circle cx="104.20" cy="430.20" r="0.95" fill="#333" />
<circle cx="196.60" cy="407.20" r="0.95" fill="#333" />
<circle cx="202.20" cy="407.20" r="0.95" fill="#333" />
<circle cx="219.30" cy="457.50" r="0.95" fill="#333" />
<circle cx="271.00" cy="471.90" r="0.95" fill="#333" />
<circle cx="276.60" cy="471.90" r="0.95" fill="#333" />
<line x1="280.00" y1="391.20" x2="296.00" y2="391.20" stroke="#8c3b8d" stroke-width="1.0" />
<circle cx="288.10" cy="391.20" r="3.85" fill="#8c3b8d" />
<line x1="280.00" y1="404.80" x2="296.00" y2="404.80" stroke="#f49aa2" stroke-width="1.0" />
<circle cx="288.10" cy="404.80" r="3.85" fill="#e8202f" />
<text x="299.80" y="393.30" font-size="9.3" text-anchor="start" font-weight="normal" fill="#2c2c2c" stroke="#2c2c2c" >Female</text>
<text x="299.80" y="408.60" font-size="9.3" text-anchor="start" font-weight="normal" fill="#2c2c2c" stroke="#2c2c2c" >Male</text>
<text x="139.50" y="557.80" font-size="9.3" text-anchor="middle" font-weight="bold" fill="#1a1a1a" stroke="#1a1a1a" >Weeks</text>
<path d="M34.30,582 L34.30,562.2 L32.40,562.2 L36.00,558.1 L39.60,562.2 L37.70,562.2 L37.70,582 Z" fill="#dc2330" stroke="#2a2a2a" stroke-width="0.75"/>
<text x="32.40" y="593.70" font-size="9.3" text-anchor="middle" font-weight="normal" fill="#2c2c2c" stroke="#2c2c2c" >ConM</text>
<text x="32.40" y="605.00" font-size="9.3" text-anchor="middle" font-weight="normal" fill="#2c2c2c" stroke="#2c2c2c" >SOSIP.v7</text>
<path d="M84.50,582 L84.50,562.2 L82.60,562.2 L86.20,558.1 L89.80,562.2 L87.90,562.2 L87.90,582 Z" fill="#dc2330" stroke="#2a2a2a" stroke-width="0.75"/>
<text x="85.30" y="593.70" font-size="9.3" text-anchor="middle" font-weight="normal" fill="#2c2c2c" stroke="#2c2c2c" >ConM</text>
<text x="85.30" y="605.00" font-size="9.3" text-anchor="middle" font-weight="normal" fill="#2c2c2c" stroke="#2c2c2c" >SOSIP.v7</text>
<path d="M185.60,582 L185.60,562.2 L183.70,562.2 L187.30,558.1 L190.90,562.2 L189.00,562.2 L189.00,582 Z" fill="#17a150" stroke="#2a2a2a" stroke-width="0.75"/>
<text x="186.10" y="593.70" font-size="9.3" text-anchor="middle" font-weight="normal" fill="#2c2c2c" stroke="#2c2c2c" >ConM</text>
<text x="186.10" y="605.00" font-size="9.3" text-anchor="middle" font-weight="normal" fill="#2c2c2c" stroke="#2c2c2c" >SOSIP.v7</text>
<text x="362.00" y="6.80" font-size="10.2" text-anchor="start" font-weight="bold" fill="#000" stroke="#000" >D</text>
<line x1="404.50" y1="5.10" x2="404.50" y2="168.90" stroke="#333" stroke-width="1.0" />
<line x1="399.40" y1="168.90" x2="404.90" y2="168.90" stroke="#333" stroke-width="1.0" />
<line x1="399.40" y1="117.30" x2="404.90" y2="117.30" stroke="#333" stroke-width="1.0" />
<line x1="399.40" y1="65.70" x2="404.90" y2="65.70" stroke="#333" stroke-width="1.0" />
<line x1="399.40" y1="14.10" x2="404.90" y2="14.10" stroke="#333" stroke-width="1.0" />
<line x1="401.60" y1="153.37" x2="404.90" y2="153.37" stroke="#333" stroke-width="0.8" />
<line x1="401.60" y1="144.28" x2="404.90" y2="144.28" stroke="#333" stroke-width="0.8" />
<line x1="401.60" y1="137.83" x2="404.90" y2="137.83" stroke="#333" stroke-width="0.8" />
<line x1="401.60" y1="132.83" x2="404.90" y2="132.83" stroke="#333" stroke-width="0.8" />
<line x1="401.60" y1="128.75" x2="404.90" y2="128.75" stroke="#333" stroke-width="0.8" />
<line x1="401.60" y1="125.29" x2="404.90" y2="125.29" stroke="#333" stroke-width="0.8" />
<line x1="401.60" y1="122.30" x2="404.90" y2="122.30" stroke="#333" stroke-width="0.8" />
<line x1="401.60" y1="119.66" x2="404.90" y2="119.66" stroke="#333" stroke-width="0.8" />
<line x1="401.60" y1="101.77" x2="404.90" y2="101.77" stroke="#333" stroke-width="0.8" />
<line x1="401.60" y1="92.68" x2="404.90" y2="92.68" stroke="#333" stroke-width="0.8" />
<line x1="401.60" y1="86.23" x2="404.90" y2="86.23" stroke="#333" stroke-width="0.8" />
<line x1="401.60" y1="81.23" x2="404.90" y2="81.23" stroke="#333" stroke-width="0.8" />
<line x1="401.60" y1="77.15" x2="404.90" y2="77.15" stroke="#333" stroke-width="0.8" />
<line x1="401.60" y1="73.69" x2="404.90" y2="73.69" stroke="#333" stroke-width="0.8" />
<line x1="401.60" y1="70.70" x2="404.90" y2="70.70" stroke="#333" stroke-width="0.8" />
<line x1="401.60" y1="68.06" x2="404.90" y2="68.06" stroke="#333" stroke-width="0.8" />
<line x1="401.60" y1="50.17" x2="404.90" y2="50.17" stroke="#333" stroke-width="0.8" />
<line x1="401.60" y1="41.08" x2="404.90" y2="41.08" stroke="#333" stroke-width="0.8" />
<line x1="401.60" y1="34.63" x2="404.90" y2="34.63" stroke="#333" stroke-width="0.8" />
<line x1="401.60" y1="29.63" x2="404.90" y2="29.63" stroke="#333" stroke-width="0.8" />
<line x1="401.60" y1="25.55" x2="404.90" y2="25.55" stroke="#333" stroke-width="0.8" />
<line x1="401.60" y1="22.09" x2="404.90" y2="22.09" stroke="#333" stroke-width="0.8" />
<line x1="401.60" y1="19.10" x2="404.90" y2="19.10" stroke="#333" stroke-width="0.8" />
<line x1="401.60" y1="16.46" x2="404.90" y2="16.46" stroke="#333" stroke-width="0.8" />
<line x1="399.00" y1="168.90" x2="643.40" y2="168.90" stroke="#6a6a6a" stroke-width="1.2" />
<text x="381.27" y="172.66" font-size="8.3" text-anchor="start" font-weight="normal" fill="#2c2c2c" stroke="#2c2c2c" >10</text>
<text x="390.97" y="169.06" font-size="8.3" text-anchor="start" font-weight="normal" fill="#2c2c2c" stroke="#2c2c2c" >1</text>
<text x="381.27" y="120.56" font-size="8.3" text-anchor="start" font-weight="normal" fill="#2c2c2c" stroke="#2c2c2c" >10</text>
<text x="391.18" y="117.36" font-size="8.3" text-anchor="start" font-weight="normal" fill="#2c2c2c" stroke="#2c2c2c" >2</text>
<text x="381.27" y="71.46" font-size="8.3" text-anchor="start" font-weight="normal" fill="#2c2c2c" stroke="#2c2c2c" >10</text>
<text x="391.28" y="67.66" font-size="8.3" text-anchor="start" font-weight="normal" fill="#2c2c2c" stroke="#2c2c2c" >3</text>
<text x="381.27" y="19.56" font-size="8.3" text-anchor="start" font-weight="normal" fill="#2c2c2c" stroke="#2c2c2c" >10</text>
<text x="391.41" y="16.16" font-size="8.3" text-anchor="start" font-weight="normal" fill="#2c2c2c" stroke="#2c2c2c" >4</text>
<text x="0" y="0" transform="translate(370.30,79.60) rotate(-90)" font-size="8.6" text-anchor="middle" font-weight="bold" fill="#1a1a1a" stroke="#1a1a1a">ID<tspan font-size="4.99" dy="2.2">50</tspan><tspan dy="-2.2"> (serum dilution)</tspan></text>
<line x1="466.6" y1="5.4" x2="466.6" y2="168.3" stroke="#111" stroke-width="1.3" stroke-dasharray="1.2 3.2" stroke-linecap="butt"/>
<line x1="523.6" y1="5.4" x2="523.6" y2="168.3" stroke="#111" stroke-width="1.3" stroke-dasharray="1.2 3.2" stroke-linecap="butt"/>
<line x1="580.6" y1="5.4" x2="580.6" y2="168.3" stroke="#111" stroke-width="1.3" stroke-dasharray="1.2 3.2" stroke-linecap="butt"/>
<text x="435.20" y="10.90" font-size="8" text-anchor="middle" font-weight="normal" fill="#2c2c2c" stroke="#2c2c2c" >22.0-fold</text>
<text x="495.80" y="10.90" font-size="8" text-anchor="middle" font-weight="normal" fill="#2c2c2c" stroke="#2c2c2c" >6.3-fold</text>
<text x="553.20" y="10.90" font-size="8" text-anchor="middle" font-weight="normal" fill="#2c2c2c" stroke="#2c2c2c" >6.7-fold</text>
<text x="606.80" y="10.90" font-size="8" text-anchor="middle" font-weight="normal" fill="#2c2c2c" stroke="#2c2c2c" >2.3-fold</text>
<circle cx="428.95" cy="16.80" r="0.95" fill="#333" />
<circle cx="434.80" cy="16.80" r="0.95" fill="#333" />
<circle cx="440.65" cy="16.80" r="0.95" fill="#333" />
<circle cx="493.18" cy="16.80" r="0.95" fill="#333" />
<circle cx="499.03" cy="16.80" r="0.95" fill="#333" />
<circle cx="552.00" cy="16.80" r="0.95" fill="#333" />
<circle cx="610.68" cy="16.80" r="0.95" fill="#333" />
<circle cx="616.52" cy="16.80" r="0.95" fill="#333" />
<line x1="423.60" y1="65.50" x2="423.60" y2="101.40" stroke="#b57fb5" stroke-width="0.9" />
<line x1="418.90" y1="101.40" x2="428.30" y2="101.40" stroke="#b57fb5" stroke-width="1.0" />
<line x1="418.90" y1="65.50" x2="428.30" y2="65.50" stroke="#b57fb5" stroke-width="1.0" />
<circle cx="423.60" cy="24.50" r="3.85" fill="#8e3a8e" />
<circle cx="423.60" cy="56.70" r="3.85" fill="#8e3a8e" />
<circle cx="417.90" cy="62.90" r="3.85" fill="#8e3a8e" />
<circle cx="423.60" cy="68.80" r="3.85" fill="#8e3a8e" />
<circle cx="429.30" cy="71.60" r="3.85" fill="#8e3a8e" />
<circle cx="417.90" cy="75.80" r="3.85" fill="#8e3a8e" />
<circle cx="423.60" cy="78.30" r="3.85" fill="#8e3a8e" />
<circle cx="429.30" cy="81.20" r="3.85" fill="#8e3a8e" />
<circle cx="417.90" cy="84.50" r="3.85" fill="#8e3a8e" />
<circle cx="423.60" cy="94.10" r="3.85" fill="#8e3a8e" />
<circle cx="423.60" cy="111.50" r="3.85" fill="#8e3a8e" />
<circle cx="423.60" cy="124.20" r="3.85" fill="#8e3a8e" />
<circle cx="423.60" cy="153.40" r="3.85" fill="#8e3a8e" />
<line x1="413.9" y1="78.5" x2="433.3" y2="78.5" stroke="#111" stroke-width="1.6" stroke-dasharray="4.5 2.6"/>
<line x1="452.20" y1="111.00" x2="452.20" y2="143.00" stroke="#f07a84" stroke-width="0.9" />
<circle cx="449.20" cy="108.10" r="3.85" fill="#e91f2e" />
<circle cx="452.20" cy="111.10" r="3.85" fill="#e91f2e" />
<circle cx="452.20" cy="128.30" r="3.85" fill="#e91f2e" />
<circle cx="452.20" cy="142.80" r="3.85" fill="#e91f2e" />
<circle cx="446.95" cy="153.60" r="3.85" fill="#e91f2e" />
<circle cx="449.73" cy="153.60" r="3.85" fill="#e91f2e" />
<circle cx="452.50" cy="153.60" r="3.85" fill="#e91f2e" />
<circle cx="455.28" cy="153.60" r="3.85" fill="#e91f2e" />
<circle cx="458.05" cy="153.60" r="3.85" fill="#e91f2e" />
<circle cx="452.20" cy="101.70" r="3.85" fill="#58595b" />
<line x1="442.7" y1="147.7" x2="461.9" y2="147.7" stroke="#111" stroke-width="1.6" stroke-dasharray="4.5 2.6"/>
<circle cx="477.80" cy="35.40" r="3.85" fill="#8e3a8e" />
<circle cx="475.00" cy="41.50" r="3.85" fill="#8e3a8e" />
<circle cx="486.60" cy="40.50" r="3.85" fill="#8e3a8e" />
<circle cx="480.60" cy="41.00" r="3.85" fill="#8e3a8e" />
<circle cx="477.80" cy="45.10" r="3.85" fill="#8e3a8e" />
<circle cx="483.00" cy="43.50" r="3.85" fill="#8e3a8e" />
<circle cx="486.60" cy="48.00" r="3.85" fill="#8e3a8e" />
<circle cx="483.60" cy="50.30" r="3.85" fill="#8e3a8e" />
<circle cx="477.60" cy="50.00" r="3.85" fill="#8e3a8e" />
<circle cx="480.00" cy="52.00" r="3.85" fill="#8e3a8e" />
<circle cx="477.60" cy="55.50" r="3.85" fill="#8e3a8e" />
<circle cx="483.60" cy="60.70" r="3.85" fill="#8e3a8e" />
<circle cx="480.60" cy="85.80" r="3.85" fill="#8e3a8e" />
<circle cx="480.60" cy="153.40" r="3.85" fill="#8e3a8e" />
<line x1="471.1" y1="48.8" x2="489.9" y2="48.8" stroke="#111" stroke-width="1.6" stroke-dasharray="4.5 2.6"/>
<line x1="509.10" y1="70.00" x2="509.10" y2="100.00" stroke="#f07a84" stroke-width="0.9" />
<circle cx="509.10" cy="54.40" r="3.85" fill="#e91f2e" />
<circle cx="506.00" cy="74.00" r="3.85" fill="#e91f2e" />
<circle cx="503.30" cy="86.60" r="3.85" fill="#e91f2e" />
<circle cx="515.10" cy="86.60" r="3.85" fill="#e91f2e" />
<circle cx="509.10" cy="93.60" r="3.85" fill="#e91f2e" />
<circle cx="506.00" cy="103.40" r="3.85" fill="#e91f2e" />
<circle cx="512.00" cy="102.30" r="3.85" fill="#e91f2e" />
<circle cx="509.10" cy="113.20" r="3.85" fill="#e91f2e" />
<circle cx="509.10" cy="135.20" r="3.85" fill="#e91f2e" />
<circle cx="512.30" cy="70.10" r="3.85" fill="#58595b" />
<line x1="500.2" y1="90" x2="519" y2="90" stroke="#111" stroke-width="1.6" stroke-dasharray="4.5 2.6"/>
<line x1="537.90" y1="92.00" x2="537.90" y2="127.80" stroke="#b57fb5" stroke-width="0.9" />
<line x1="533.20" y1="127.80" x2="542.30" y2="127.80" stroke="#b57fb5" stroke-width="1.0" />
<circle cx="537.90" cy="71.90" r="3.85" fill="#8e3a8e" />
<circle cx="537.90" cy="80.70" r="3.85" fill="#8e3a8e" />
<circle cx="539.80" cy="92.30" r="3.85" fill="#8e3a8e" />
<circle cx="535.70" cy="95.60" r="3.85" fill="#8e3a8e" />
<circle cx="543.20" cy="103.80" r="3.85" fill="#8e3a8e" />
<circle cx="531.90" cy="106.30" r="3.85" fill="#8e3a8e" />
<circle cx="536.50" cy="111.30" r="3.85" fill="#8e3a8e" />
<circle cx="543.20" cy="113.30" r="3.85" fill="#8e3a8e" />
<circle cx="539.50" cy="116.20" r="3.85" fill="#8e3a8e" />
<circle cx="534.15" cy="153.50" r="3.85" fill="#8e3a8e" />
<circle cx="536.68" cy="153.50" r="3.85" fill="#8e3a8e" />
<circle cx="539.22" cy="153.50" r="3.85" fill="#8e3a8e" />
<circle cx="541.75" cy="153.50" r="3.85" fill="#8e3a8e" />
<line x1="528.3" y1="107.6" x2="547.3" y2="107.6" stroke="#111" stroke-width="1.6" stroke-dasharray="4.5 2.6"/>
<line x1="566.30" y1="128.10" x2="566.30" y2="140.00" stroke="#f07a84" stroke-width="0.9" />
<line x1="562.20" y1="128.10" x2="570.40" y2="128.10" stroke="#f07a84" stroke-width="1.0" />
<circle cx="568.00" cy="108.00" r="3.85" fill="#e91f2e" />
<circle cx="564.70" cy="112.10" r="3.85" fill="#e91f2e" />
<circle cx="567.10" cy="138.60" r="3.85" fill="#e91f2e" />
<circle cx="562.20" cy="147.30" r="3.85" fill="#e91f2e" />
<circle cx="561.05" cy="153.50" r="3.85" fill="#e91f2e" />
<circle cx="563.68" cy="153.50" r="3.85" fill="#e91f2e" />
<circle cx="566.30" cy="153.50" r="3.85" fill="#e91f2e" />
<circle cx="568.93" cy="153.50" r="3.85" fill="#e91f2e" />
<circle cx="571.55" cy="153.50" r="3.85" fill="#e91f2e" />
<circle cx="565.00" cy="145.20" r="3.85" fill="#58595b" />
<line x1="556.7" y1="150.6" x2="575.9" y2="150.6" stroke="#111" stroke-width="1.6" stroke-dasharray="4.5 2.6"/>
<line x1="594.50" y1="109.30" x2="594.50" y2="146.40" stroke="#b57fb5" stroke-width="0.9" />
<line x1="590.00" y1="109.30" x2="599.00" y2="109.30" stroke="#b57fb5" stroke-width="1.0" />
<line x1="590.00" y1="146.40" x2="599.00" y2="146.40" stroke="#b57fb5" stroke-width="1.0" />
<circle cx="594.50" cy="77.40" r="3.85" fill="#8e3a8e" />
<circle cx="594.90" cy="101.40" r="3.85" fill="#8e3a8e" />
<circle cx="591.60" cy="105.50" r="3.85" fill="#8e3a8e" />
<circle cx="594.50" cy="113.00" r="3.85" fill="#8e3a8e" />
<circle cx="597.50" cy="130.30" r="3.85" fill="#8e3a8e" />
<circle cx="589.60" cy="134.50" r="3.85" fill="#8e3a8e" />
<circle cx="594.20" cy="136.10" r="3.85" fill="#8e3a8e" />
<circle cx="594.50" cy="141.10" r="3.85" fill="#8e3a8e" />
<circle cx="591.75" cy="153.50" r="3.85" fill="#8e3a8e" />
<circle cx="594.95" cy="153.50" r="3.85" fill="#8e3a8e" />
<circle cx="598.15" cy="153.50" r="3.85" fill="#8e3a8e" />
<line x1="585.4" y1="135" x2="604.5" y2="135" stroke="#111" stroke-width="1.6" stroke-dasharray="4.5 2.6"/>
<circle cx="623.00" cy="123.20" r="3.85" fill="#e91f2e" />
<circle cx="623.00" cy="140.30" r="3.85" fill="#e91f2e" />
<circle cx="617.95" cy="153.50" r="3.85" fill="#e91f2e" />
<circle cx="620.73" cy="153.50" r="3.85" fill="#e91f2e" />
<circle cx="623.50" cy="153.50" r="3.85" fill="#e91f2e" />
<circle cx="626.27" cy="153.50" r="3.85" fill="#e91f2e" />
<circle cx="629.05" cy="153.50" r="3.85" fill="#e91f2e" />
<circle cx="619.00" cy="153.50" r="3.85" fill="#58595b" />
<line x1="614.1" y1="153.5" x2="632.9" y2="153.5" stroke="#111" stroke-width="1.6" stroke-dasharray="4.5 2.6"/>
<text x="436.10" y="181.20" font-size="7.8" text-anchor="middle" font-weight="normal" fill="#2c2c2c" stroke="#2c2c2c" >10 weeks</text>
<text x="496.00" y="181.20" font-size="7.8" text-anchor="middle" font-weight="normal" fill="#2c2c2c" stroke="#2c2c2c" >26 weeks</text>
<text x="551.60" y="181.20" font-size="7.8" text-anchor="middle" font-weight="normal" fill="#2c2c2c" stroke="#2c2c2c" >48 weeks</text>
<text x="611.80" y="181.20" font-size="7.8" text-anchor="middle" font-weight="normal" fill="#2c2c2c" stroke="#2c2c2c" >72 weeks</text>
<circle cx="430.50" cy="207.40" r="3.65" fill="#8e3a8e" />
<circle cx="430.50" cy="221.00" r="3.65" fill="#e91f2e" />
<circle cx="502.00" cy="207.80" r="3.65" fill="#58595b" />
<text x="439.20" y="210.70" font-size="9.3" text-anchor="start" font-weight="normal" fill="#2c2c2c" stroke="#2c2c2c" >Female</text>
<text x="439.20" y="224.30" font-size="9.3" text-anchor="start" font-weight="normal" fill="#2c2c2c" stroke="#2c2c2c" >Male</text>
<text x="540.50" y="210.30" font-size="9.3" text-anchor="middle" font-weight="normal" fill="#2c2c2c" stroke="#2c2c2c" >Transgender</text>
<text x="540.30" y="220.80" font-size="9.3" text-anchor="middle" font-weight="normal" fill="#2c2c2c" stroke="#2c2c2c" >(male to female)</text>
<text x="363.30" y="239.20" font-size="9.6" text-anchor="start" font-weight="bold" fill="#000" stroke="#000" >E</text>
<line x1="405.50" y1="252.70" x2="405.50" y2="409.00" stroke="#333" stroke-width="1.0" />
<line x1="399.20" y1="252.70" x2="405.70" y2="252.70" stroke="#333" stroke-width="1.0" />
<line x1="402.20" y1="334.43" x2="405.70" y2="334.43" stroke="#333" stroke-width="0.9" />
<line x1="402.20" y1="314.90" x2="405.70" y2="314.90" stroke="#333" stroke-width="0.9" />
<line x1="402.20" y1="299.75" x2="405.70" y2="299.75" stroke="#333" stroke-width="0.9" />
<line x1="402.20" y1="287.37" x2="405.70" y2="287.37" stroke="#333" stroke-width="0.9" />
<line x1="402.20" y1="276.91" x2="405.70" y2="276.91" stroke="#333" stroke-width="0.9" />
<line x1="402.20" y1="267.85" x2="405.70" y2="267.85" stroke="#333" stroke-width="0.9" />
<line x1="402.20" y1="259.85" x2="405.70" y2="259.85" stroke="#333" stroke-width="0.9" />
<line x1="405.7" y1="361.95" x2="640" y2="361.95" stroke="#d2d2d2" stroke-width="0.8"/>
<text x="400.72" y="365.06" font-size="8.3" text-anchor="end" font-weight="normal" fill="#2c2c2c" stroke="#2c2c2c" >20</text>
<text x="382.77" y="257.66" font-size="8.3" text-anchor="start" font-weight="normal" fill="#2c2c2c" stroke="#2c2c2c" >10</text>
<text x="393.58" y="254.56" font-size="8.3" text-anchor="start" font-weight="normal" fill="#2c2c2c" stroke="#2c2c2c" >2</text>
<text x="384.07" y="412.46" font-size="8.3" text-anchor="start" font-weight="normal" fill="#2c2c2c" stroke="#2c2c2c" >10</text>
<text x="394.07" y="408.96" font-size="8.3" text-anchor="start" font-weight="normal" fill="#2c2c2c" stroke="#2c2c2c" >1</text>
<line x1="399.60" y1="409.00" x2="639.70" y2="409.00" stroke="#8c8c8c" stroke-width="1.4" />
<rect x="413.90" y="405.8" width="16.8" height="6.4" rx="3.2" fill="#283c8c"/>
<rect x="438.81" y="405.8" width="16.8" height="6.4" rx="3.2" fill="#3a64b4"/>
<rect x="463.72" y="405.8" width="16.8" height="6.4" rx="3.2" fill="#ad2e93"/>
<rect x="488.63" y="405.8" width="16.8" height="6.4" rx="3.2" fill="#e8787c"/>
<rect x="513.54" y="405.8" width="16.8" height="6.4" rx="3.2" fill="#f0822e"/>
<rect x="538.45" y="405.8" width="16.8" height="6.4" rx="3.2" fill="#dde13e"/>
<rect x="563.36" y="405.8" width="16.8" height="6.4" rx="3.2" fill="#a8182a"/>
<rect x="588.27" y="405.8" width="16.8" height="6.4" rx="3.2" fill="#6b3a98"/>
<rect x="613.18" y="405.8" width="16.8" height="6.4" rx="3.2" fill="#5b97d2"/>
<text x="0" y="0" transform="translate(370.60,327.80) rotate(-90)" font-size="9.3" text-anchor="middle" font-weight="bold" fill="#1a1a1a" stroke="#1a1a1a">ID<tspan font-size="5.39" dy="2.2">50</tspan><tspan dy="-2.2"> (serum dilution)</tspan></text>
<circle cx="385.60" cy="446.20" r="3.25" fill="#283c8c" />
<text x="402.83" y="451.10" font-size="9.3" font-weight="bold" fill="#161616" stroke="#161616" textLength="11.33" lengthAdjust="spacing">01</text>
<text x="416.40" y="451.10" font-size="9.0" font-weight="normal" fill="#262626" stroke="#262626" textLength="2.90" lengthAdjust="spacing">/</text>
<text x="422.14" y="451.10" font-size="9.0" font-weight="normal" fill="#262626" stroke="#262626" textLength="33.43" lengthAdjust="spacing">CNE55</text>
<circle cx="385.60" cy="457.50" r="3.25" fill="#3a64b4" />
<text x="402.97" y="462.00" font-size="9.3" font-weight="bold" fill="#161616" stroke="#161616" textLength="14.79" lengthAdjust="spacing">AC</text>
<text x="421.20" y="462.00" font-size="9.0" font-weight="normal" fill="#262626" stroke="#262626" textLength="2.90" lengthAdjust="spacing">/</text>
<text x="424.65" y="462.00" font-size="9.0" font-weight="normal" fill="#262626" stroke="#262626" textLength="77.81" lengthAdjust="spacing">246-F3_C10_2</text>
<circle cx="385.60" cy="471.10" r="3.25" fill="#ad2e93" />
<text x="402.82" y="475.60" font-size="9.3" font-weight="bold" fill="#161616" stroke="#161616" textLength="7.24" lengthAdjust="spacing">C</text>
<text x="412.80" y="475.60" font-size="9.0" font-weight="normal" fill="#262626" stroke="#262626" textLength="3.00" lengthAdjust="spacing">/</text>
<text x="416.74" y="475.60" font-size="9.0" font-weight="normal" fill="#262626" stroke="#262626" textLength="62.45" lengthAdjust="spacing">Ce1176_A3</text>
<circle cx="385.60" cy="485.60" r="3.25" fill="#e8787c" />
<text x="402.58" y="489.80" font-size="9.3" font-weight="bold" fill="#161616" stroke="#161616" textLength="7.34" lengthAdjust="spacing">B</text>
<text x="413.90" y="489.80" font-size="9.0" font-weight="normal" fill="#262626" stroke="#262626" textLength="2.90" lengthAdjust="spacing">/</text>
<text x="418.50" y="489.80" font-size="9.0" font-weight="normal" fill="#262626" stroke="#262626" textLength="36.64" lengthAdjust="spacing">TRO.11</text>
<circle cx="385.60" cy="499.30" r="3.25" fill="#f0822e" />
<text x="402.82" y="503.50" font-size="9.3" font-weight="bold" fill="#161616" stroke="#161616" textLength="7.24" lengthAdjust="spacing">C</text>
<text x="413.00" y="503.50" font-size="9.0" font-weight="normal" fill="#262626" stroke="#262626" textLength="3.00" lengthAdjust="spacing">/</text>
<text x="417.05" y="503.50" font-size="9.0" font-weight="normal" fill="#262626" stroke="#262626" textLength="55.65" lengthAdjust="spacing">25710-2.43</text>
<circle cx="531.60" cy="445.10" r="3.25" fill="#dde13e" />
<text x="549.52" y="449.70" font-size="9.3" font-weight="bold" fill="#161616" stroke="#161616" textLength="36.79" lengthAdjust="spacing">CRF07</text>
<text x="587.60" y="449.70" font-size="9.0" font-weight="normal" fill="#262626" stroke="#262626" textLength="2.40" lengthAdjust="spacing">/</text>
<text x="593.34" y="449.70" font-size="9.0" font-weight="normal" fill="#262626" stroke="#262626" textLength="46.41" lengthAdjust="spacing">CH119.10</text>
<circle cx="531.60" cy="459.10" r="3.25" fill="#a8182a" />
<text x="549.52" y="463.40" font-size="9.3" font-weight="bold" fill="#161616" stroke="#161616" textLength="36.79" lengthAdjust="spacing">CRF07</text>
<text x="587.60" y="463.40" font-size="9.0" font-weight="normal" fill="#262626" stroke="#262626" textLength="2.40" lengthAdjust="spacing">/</text>
<text x="593.06" y="463.40" font-size="9.0" font-weight="normal" fill="#262626" stroke="#262626" textLength="91.89" lengthAdjust="spacing">BJOX002000.03.2</text>
<circle cx="531.60" cy="472.80" r="3.25" fill="#6b3a98" />
<text x="549.32" y="477.60" font-size="9.3" font-weight="bold" fill="#161616" stroke="#161616" textLength="7.26" lengthAdjust="spacing">G</text>
<text x="560.80" y="477.60" font-size="9.0" font-weight="normal" fill="#262626" stroke="#262626" textLength="2.20" lengthAdjust="spacing">/</text>
<text x="565.20" y="477.60" font-size="9.0" font-weight="normal" fill="#262626" stroke="#262626" textLength="77.25" lengthAdjust="spacing">X1632_S2_B10</text>
<circle cx="531.60" cy="486.10" r="3.25" fill="#5b97d2" />
<text x="549.32" y="491.00" font-size="9.3" font-weight="bold" fill="#161616" stroke="#161616" textLength="6.94" lengthAdjust="spacing">C</text>
<text x="558.90" y="491.00" font-size="9.0" font-weight="normal" fill="#262626" stroke="#262626" textLength="2.60" lengthAdjust="spacing">/</text>
<text x="563.24" y="491.00" font-size="9.0" font-weight="normal" fill="#262626" stroke="#262626" textLength="89.15" lengthAdjust="spacing">Ce703010217_B6</text>
</svg></body></html>
